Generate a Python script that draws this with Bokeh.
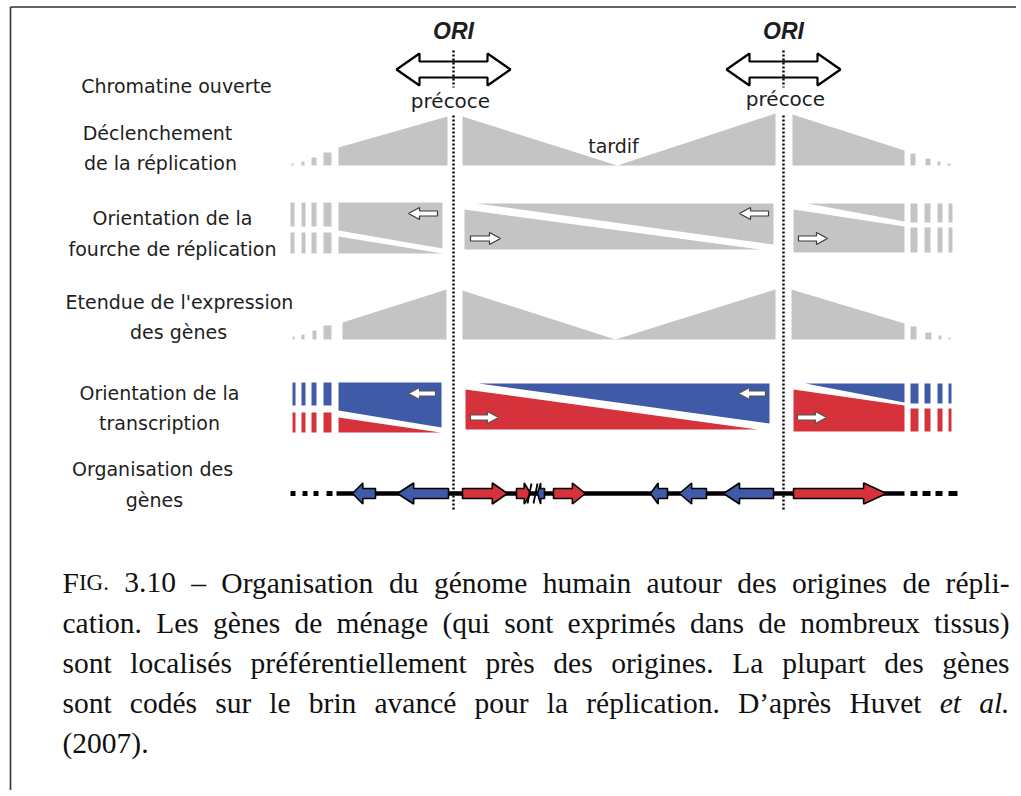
import numpy as np
from bokeh.plotting import figure
from bokeh.models import Range1d
from bokeh.core.properties import value
from bokeh.embed import file_html
from bokeh.resources import INLINE

PAGE_W, PAGE_H = 1016, 790
ORIGIN = 0

GRAY = "#c4c4c4"
BLUE = "#3f5ba8"
RED = "#d5323b"
SANS = "DejaVu Sans"
SERIF = "Liberation Serif"

# ---------------- data ----------------
ORI_X = [453, 783]
ORI_LABEL = "ORI"
ORI_LABEL_Y = 30
ORI_ARROW_Y = 69
ORI_DOT_SPANS = [(50, 87), (115, 509)]

EARLY_LABEL = "précoce"
EARLY_X = [450, 785]
EARLY_Y = [100, 98]
LATE_LABEL = "tardif"
LATE_X = [613]
LATE_Y = [145]

ROW_LABELS = ["Chromatine ouverte", "Déclenchement", "de la réplication",
              "Orientation de la", "fourche de réplication",
              "Etendue de l'expression", "des gènes",
              "Orientation de la", "transcription",
              "Organisation des", "gènes"]
ROW_LABEL_X = [176, 157, 160, 172, 172, 179, 178, 159, 159, 152, 154]
ROW_LABEL_Y = [85, 132, 162, 217, 248, 301, 331, 392, 422, 468, 499]

# row: replication timing profile (gray)
TIMING_XS = [[338, 338, 447, 447], [462, 462, 617, 775, 775], [792, 792, 904, 904]]
TIMING_YS = [[165, 147, 116, 165], [165, 116, 165, 113, 165], [165, 114, 150, 165]]
TIMING_BASE = 165
TIMING_TAIL_L = [323, 311, 301, 291, 910, 925, 937, 947]
TIMING_TAIL_R = [331, 316, 304, 293, 915, 930, 940, 950]
TIMING_TAIL_TOP = [152, 157, 161, 163, 153, 158, 161, 163]

# row: gene expression breadth profile (gray)
EXPR_XS = [[342, 342, 446, 446], [462, 462, 615, 775, 775], [791, 791, 904, 904]]
EXPR_YS = [[339, 322, 289, 339], [339, 290, 339, 289, 339], [339, 289, 323, 339]]
EXPR_BASE = 339
EXPR_TAIL_L = [323, 312, 301, 292, 910, 925, 938, 948]
EXPR_TAIL_R = [331, 316, 304, 294, 916, 931, 941, 950]
EXPR_TAIL_TOP = [325, 330, 334, 336, 326, 332, 335, 337]

# row: replication fork orientation (gray)
FORK_XS = [[338, 442, 442, 338], [338, 442, 338], [476, 773, 773], [464, 760, 464],
           [807, 904, 904], [793, 904, 904, 793]]
FORK_YS = [[202, 202, 248, 230], [236, 253, 253], [203, 203, 244], [209, 249, 249],
           [203, 203, 221], [209, 226, 252, 252]]
FORK_BAR_L = [290, 301, 311, 323, 910, 924, 937, 948]
FORK_BAR_R = [294, 305, 316, 331, 917, 930, 942, 952]
FORK_BAR_UP = [(202, 226)] * 4 + [(203, 222)] * 4
FORK_BAR_LO = [(232, 253)] * 4 + [(227, 252)] * 4
FORK_ARROW_TAIL = [437, 470, 768, 798]
FORK_ARROW_TIP = [408, 500, 739, 827]
FORK_ARROW_Y = [213, 238, 213, 238]

# row: transcription orientation (blue = reverse, red = forward)
TX_BLUE_XS = [[338, 441, 441, 338], [478, 769, 769], [805, 904, 904]]
TX_BLUE_YS = [[382, 382, 427, 410], [383, 383, 423], [383, 383, 402]]
TX_RED_XS = [[338, 440, 338], [465, 757, 465], [793, 904, 904, 793]]
TX_RED_YS = [[417, 432, 432], [389, 429, 429], [389, 405, 431, 431]]
TX_BAR_L = [292, 301, 311, 323, 910, 924, 937, 948]
TX_BAR_R = [295, 305, 316, 331, 918, 930, 942, 951]
TX_BAR_BLUE = [(382, 405)] * 4 + [(383, 403)] * 4
TX_BAR_RED = [(412, 432)] * 4 + [(408, 431)] * 4
TX_ARROW_TAIL = [435, 470, 765, 797]
TX_ARROW_TIP = [408, 498, 738, 826]
TX_ARROW_Y = [393, 417, 393, 417]

# row: gene organisation
GENE_LINE_Y = 493
GENE_LINE_SPAN = (336, 904)
GENE_DASH_L = [290, 302, 313, 326, 910, 922, 935, 948]
GENE_DASH_R = [295, 307, 318, 332, 917, 930, 942, 957]
GENE_START = [352, 397, 462, 516, 537, 553, 650, 679, 723, 793]
GENE_END = [375, 448, 507, 530, 544, 585, 667, 706, 773, 886]
GENE_STRAND = [-1, -1, 1, 1, -1, 1, -1, -1, -1, 1]
BREAK_X = [529, 535]

# caption
CAPTION_LINES = [
    ["FIG.", "3.10", "–", "Organisation", "du", "génome", "humain", "autour", "des",
     "origines", "de", "répli-"],
    ["cation.", "Les", "gènes", "de", "ménage", "(qui", "sont", "exprimés", "dans", "de",
     "nombreux", "tissus)"],
    ["sont", "localisés", "préférentiellement", "près", "des", "origines.", "La", "plupart",
     "des", "gènes"],
    ["sont", "codés", "sur", "le", "brin", "avancé", "pour", "la", "réplication.", "D’après",
     "Huvet", "et", "al."],
    ["(2007)."],
]
CAPTION_ITALIC = {(3, 11), (3, 12)}
CAPTION_BASELINE = [582, 622, 662, 702, 742]
CAPTION_JUSTIFY = [True, True, True, True, False]
CAPTION_X0, CAPTION_X1 = 62, 1009
CAP_SIZE = 29.5
SC_SIZE = 23

# ---------------- helpers ----------------
TIMES = {' ': 250, '.': 250, ',': 250, '-': 333, '–': 500, '(': 333, ')': 333, '’': 333, "'": 180,
         'A': 722, 'D': 722, 'F': 556, 'G': 722, 'H': 722, 'I': 333, 'L': 611, 'O': 722,
         'a': 444, 'b': 500, 'c': 444, 'd': 500, 'e': 444, 'é': 444, 'è': 444, 'f': 333,
         'g': 500, 'h': 500, 'i': 278, 'j': 278, 'k': 500, 'l': 278, 'm': 778, 'n': 500,
         'o': 500, 'p': 500, 'q': 500, 'r': 333, 's': 389, 't': 278, 'u': 500, 'v': 500,
         'w': 722, 'x': 500, 'y': 500, 'z': 444}
for d in "0123456789":
    TIMES[d] = 500
TIMES_I = dict(TIMES, a=500)


def tw(s, size, italic=False):
    tab = TIMES_I if italic else TIMES
    return sum(tab.get(c, 500) for c in s) * size / 1000.0


def small_arrow(tail, tip, y, head=11, hh=6, sh=2.5):
    d = 1 if tip > tail else -1
    b = tip - d * head
    return [tail, b, b, tip, b, b, tail], [y - sh, y - sh, y - hh, y, y + hh, y + sh, y + sh]


def double_arrow(cx, y, half=57, head=23, hh=16, sh=8):
    l, r = cx - half, cx + half
    xs = [l, l + head, l + head, r - head, r - head, r, r - head, r - head, l + head, l + head]
    ys = [y, y - hh, y - sh, y - sh, y - hh, y, y + hh, y + sh, y + sh, y + hh]
    return xs, ys


def gene_poly(s, e, strand, y):
    L = e - s
    head = min(0.45 * L, 8 + 0.16 * L)
    if strand > 0:
        b = e - head
        xs = [s, b, b, e, b, b, s]
    else:
        b = s + head
        xs = [e, b, b, s, b, b, e]
    ys = [y - 5, y - 5, y - 10.5, y, y + 10.5, y + 5, y + 5]
    return xs, ys


# ---------------- figure ----------------
p = figure(width=PAGE_W, height=PAGE_H,
           x_range=Range1d(ORIGIN, ORIGIN + PAGE_W),
           y_range=Range1d(ORIGIN + PAGE_H, ORIGIN),
           output_backend="svg", toolbar_location=None,
           x_axis_type=None, y_axis_type=None, min_border=0)
p.outline_line_color = None
p.background_fill_color = "white"
p.border_fill_color = "white"

# frame of the figure box
p.segment(x0=[10, 10], y0=[6.5, 6.5], x1=[ORIGIN + PAGE_W, 10], y1=[6.5, ORIGIN + PAGE_H],
          line_color="#333333", line_width=1.6)

# row labels
p.text(x=ROW_LABEL_X, y=ROW_LABEL_Y, text=ROW_LABELS, text_font=value(SANS),
       text_font_size="19px", text_align="center", text_baseline="middle",
       text_color="#1e1e1e")

# ORI arrows and labels
for cx in ORI_X:
    xs, ys = double_arrow(cx, ORI_ARROW_Y)
    p.patch(xs, ys, fill_color="white", line_color="black", line_width=2.2)
p.text(x=ORI_X, y=[ORI_LABEL_Y] * len(ORI_X), text=[ORI_LABEL] * len(ORI_X),
       text_font=value("Liberation Sans"), text_font_style="bold italic",
       text_font_size="23px", text_align="center", text_baseline="middle",
       text_color="#1e1e1e")
p.text(x=EARLY_X, y=EARLY_Y, text=[EARLY_LABEL] * 2, text_font=value(SANS),
       text_font_size="20px", text_align="center", text_baseline="middle",
       text_color="#1e1e1e")
p.text(x=LATE_X, y=LATE_Y, text=[LATE_LABEL], text_font=value(SANS),
       text_font_size="19px", text_align="center", text_baseline="middle",
       text_color="#1e1e1e")

# timing profile
p.patches(TIMING_XS, TIMING_YS, fill_color=GRAY, line_color=None)
p.quad(left=TIMING_TAIL_L, right=TIMING_TAIL_R, top=TIMING_TAIL_TOP,
       bottom=[TIMING_BASE] * len(TIMING_TAIL_L), fill_color=GRAY, line_color=None)

# fork orientation
p.patches(FORK_XS, FORK_YS, fill_color=GRAY, line_color=None)
p.quad(left=FORK_BAR_L, right=FORK_BAR_R, top=[a for a, b in FORK_BAR_UP],
       bottom=[b for a, b in FORK_BAR_UP], fill_color=GRAY, line_color=None)
p.quad(left=FORK_BAR_L, right=FORK_BAR_R, top=[a for a, b in FORK_BAR_LO],
       bottom=[b for a, b in FORK_BAR_LO], fill_color=GRAY, line_color=None)
fx, fy = zip(*[small_arrow(t, h, y) for t, h, y in zip(FORK_ARROW_TAIL, FORK_ARROW_TIP, FORK_ARROW_Y)])
p.patches(list(fx), list(fy), fill_color="white", line_color="#3a3a3a", line_width=1.2)

# expression profile
p.patches(EXPR_XS, EXPR_YS, fill_color=GRAY, line_color=None)
p.quad(left=EXPR_TAIL_L, right=EXPR_TAIL_R, top=EXPR_TAIL_TOP,
       bottom=[EXPR_BASE] * len(EXPR_TAIL_L), fill_color=GRAY, line_color=None)

# transcription orientation
p.patches(TX_BLUE_XS, TX_BLUE_YS, fill_color=BLUE, line_color=None)
p.patches(TX_RED_XS, TX_RED_YS, fill_color=RED, line_color=None)
p.quad(left=TX_BAR_L, right=TX_BAR_R, top=[a for a, b in TX_BAR_BLUE],
       bottom=[b for a, b in TX_BAR_BLUE], fill_color=BLUE, line_color=None)
p.quad(left=TX_BAR_L, right=TX_BAR_R, top=[a for a, b in TX_BAR_RED],
       bottom=[b for a, b in TX_BAR_RED], fill_color=RED, line_color=None)
tx, ty = zip(*[small_arrow(t, h, y) for t, h, y in zip(TX_ARROW_TAIL, TX_ARROW_TIP, TX_ARROW_Y)])
p.patches(list(tx), list(ty), fill_color="white", line_color="#555555", line_width=1.2)

# gene line and genes
p.segment(x0=[GENE_LINE_SPAN[0]], y0=[GENE_LINE_Y], x1=[GENE_LINE_SPAN[1]], y1=[GENE_LINE_Y],
          line_color="black", line_width=4.5)
p.quad(left=GENE_DASH_L, right=GENE_DASH_R, top=[GENE_LINE_Y - 2.5] * len(GENE_DASH_L),
       bottom=[GENE_LINE_Y + 2.5] * len(GENE_DASH_L), fill_color="black", line_color=None)
gx, gy = zip(*[gene_poly(s, e, st, GENE_LINE_Y) for s, e, st in zip(GENE_START, GENE_END, GENE_STRAND)])
p.patches(list(gx), list(gy), fill_color=[RED if st > 0 else BLUE for st in GENE_STRAND],
          line_color="black", line_width=1.6)
p.segment(x0=[b - 2 for b in BREAK_X], y0=[GENE_LINE_Y + 10] * 2,
          x1=[b + 2 for b in BREAK_X], y1=[GENE_LINE_Y - 10] * 2,
          line_color="black", line_width=1.8)

# ORI dotted lines (on top)
for cx in ORI_X:
    p.segment(x0=[cx] * len(ORI_DOT_SPANS), y0=[a for a, b in ORI_DOT_SPANS],
              x1=[cx] * len(ORI_DOT_SPANS), y1=[b for a, b in ORI_DOT_SPANS],
              line_color="black", line_width=2.4, line_dash="2 2")

# caption, justified word by word
reg_x, reg_y, reg_t = [], [], []
ita_x, ita_y, ita_t = [], [], []
sc_x, sc_y, sc_t = [], [], []
for li, words in enumerate(CAPTION_LINES):
    widths = []
    for wi, w in enumerate(words):
        if w == "FIG.":
            widths.append(tw("F", CAP_SIZE) + tw("IG.", SC_SIZE))
        else:
            widths.append(tw(w, CAP_SIZE, (li, wi) in CAPTION_ITALIC))
    if CAPTION_JUSTIFY[li] and len(words) > 1:
        gap = (CAPTION_X1 - CAPTION_X0 - sum(widths)) / (len(words) - 1)
    else:
        gap = tw(" ", CAP_SIZE)
    x = CAPTION_X0
    yb = CAPTION_BASELINE[li]
    for wi, w in enumerate(words):
        if w == "FIG.":
            reg_x.append(x); reg_y.append(yb); reg_t.append("F")
            sc_x.append(x + tw("F", CAP_SIZE)); sc_y.append(yb); sc_t.append("IG.")
        elif (li, wi) in CAPTION_ITALIC:
            ita_x.append(x); ita_y.append(yb); ita_t.append(w)
        else:
            reg_x.append(x); reg_y.append(yb); reg_t.append(w)
        x += widths[wi] + gap

common = dict(text_font=value(SERIF), text_align="left", text_baseline="alphabetic",
              text_color="#111111")
p.text(x=reg_x, y=reg_y, text=reg_t, text_font_size=f"{CAP_SIZE}px", **common)
p.text(x=ita_x, y=ita_y, text=ita_t, text_font_size=f"{CAP_SIZE}px",
       text_font_style="italic", **common)
p.text(x=sc_x, y=sc_y, text=sc_t, text_font_size=f"{SC_SIZE}px", **common)

open("out.html", "w").write(file_html(p, INLINE))
